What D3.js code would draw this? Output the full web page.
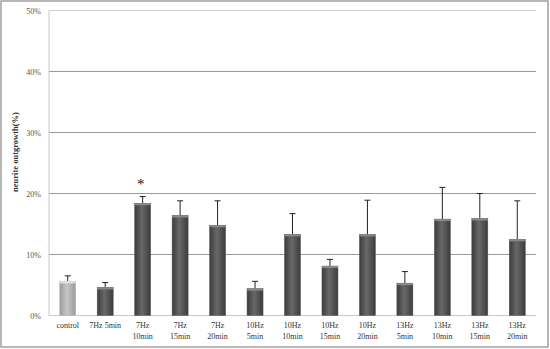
<!DOCTYPE html>
<html>
<head>
<meta charset="utf-8">
<script src="https://cdn.jsdelivr.net/npm/d3@7"></script>
<style>
  body { margin: 0; background: #fff; }
  text { font-family: "Liberation Serif", "DejaVu Serif", serif; }
</style>
</head>
<body>
<script>
// groups on the x axis (line 1 / line 2)
const groups = ['control', '7Hz 5min', '7Hz|10min', '7Hz|15min', '7Hz|20min', '10Hz|5min', '10Hz|10min',
  '10Hz|15min', '10Hz|20min', '13Hz|5min', '13Hz|10min', '13Hz|15min', '13Hz|20min']
// mean neurite outgrowth, %
const means = [5.6, 4.6, 18.4, 16.4, 14.8, 4.4, 13.3, 8.1, 13.3, 5.3, 15.8, 15.9, 12.5]
// error bar (upper), %
const errs = [0.9, 0.8, 1.1, 2.4, 4.0, 1.2, 3.4, 1.1, 5.6, 1.9, 5.2, 4.1, 6.3]
const yTicks = [0, 10, 20, 30, 40, 50]
const starred = ['7Hz|10min']

let width = 550;
let height = 349;
let plotLeft = 49, plotRight = 536, plotTop = 10.5, plotBottom = 315.5;

const svg = d3.select('body').append('svg').attr('width', width).attr('height', height)

// outer frame
svg.append('rect').attr('x', 1).attr('y', 1).attr('width', width - 3).attr('height', height - 3)
  .attr('fill', 'white').attr('stroke', '#a0a0a0').attr('stroke-width', 1.5)

const defs = svg.append('defs')
const mkGrad = (id, edge, mid) => {
  let g = defs.append('linearGradient').attr('id', id).attr('x1', '0%').attr('x2', '100%')
  g.append('stop').attr('offset', '0%').attr('stop-color', edge)
  g.append('stop').attr('offset', '45%').attr('stop-color', mid)
  g.append('stop').attr('offset', '100%').attr('stop-color', edge)
}
mkGrad('dark', '#3c3c3c', '#686868')
mkGrad('light', '#9a9a9a', '#c6c6c6')

const x = d3.scaleBand().domain(groups).range([plotLeft, plotRight])
const y = d3.scaleLinear().domain([0, 50]).range([plotBottom, plotTop])

// grid
svg.append('g').selectAll('line').data(yTicks.slice(1)).enter().append('line')
  .attr('x1', plotLeft).attr('x2', plotRight)
  .attr('y1', d => y(d)).attr('y2', d => y(d))
  .attr('stroke', d => d === 50 ? '#d0d0d0' : '#9a9a9a').attr('stroke-width', 1)

// axes lines
svg.append('line').attr('x1', plotLeft).attr('x2', plotLeft).attr('y1', plotTop).attr('y2', plotBottom)
  .attr('stroke', '#c8c8c8')
svg.append('line').attr('x1', plotLeft).attr('x2', plotRight).attr('y1', plotBottom).attr('y2', plotBottom)
  .attr('stroke', '#c8c8c8')

// y tick labels
svg.append('g').selectAll('text').data(yTicks).enter().append('text')
  .attr('x', plotLeft - 8).attr('y', d => y(d) + 3)
  .attr('text-anchor', 'end').attr('font-size', 8).attr('fill', '#555')
  .text(d => d + '%')

// y axis title
svg.append('text')
  .attr('transform', 'translate(18,152) rotate(-90)')
  .attr('text-anchor', 'middle').attr('font-size', 8.5).attr('font-weight', 'bold').attr('fill', '#333')
  .text('neurite outgrowth(%)')

const bw = 16
const bars = svg.append('g').selectAll('g').data(groups).enter().append('g')

// error bars
bars.append('line')
  .attr('x1', d => x(d) + x.bandwidth() / 2).attr('x2', d => x(d) + x.bandwidth() / 2)
  .attr('y1', (d, i) => y(means[i])).attr('y2', (d, i) => y(means[i] + errs[i]))
  .attr('stroke', '#222').attr('stroke-width', 1)
bars.append('line')
  .attr('x1', d => x(d) + x.bandwidth() / 2 - 3).attr('x2', d => x(d) + x.bandwidth() / 2 + 3)
  .attr('y1', (d, i) => y(means[i] + errs[i])).attr('y2', (d, i) => y(means[i] + errs[i]))
  .attr('stroke', '#222').attr('stroke-width', 1)

bars.append('rect')
  .attr('x', d => x(d) + x.bandwidth() / 2 - bw / 2)
  .attr('width', bw)
  .attr('y', (d, i) => y(means[i]))
  .attr('height', (d, i) => plotBottom - y(means[i]))
  .attr('fill', (d, i) => i === 0 ? 'url(#light)' : 'url(#dark)')
  .attr('stroke', (d, i) => i === 0 ? '#b8b8b8' : '#555').attr('stroke-width', 0.5)
// top cap
bars.append('rect')
  .attr('x', d => x(d) + x.bandwidth() / 2 - bw / 2)
  .attr('width', bw).attr('height', 2)
  .attr('y', (d, i) => y(means[i]))
  .attr('fill', (d, i) => i === 0 ? '#e4e4e4' : '#8a8a8a')

// x labels
const xl = svg.append('g').selectAll('text').data(groups).enter().append('text')
  .attr('text-anchor', 'middle').attr('font-size', 8).attr('fill', '#333')
  .attr('x', d => x(d) + x.bandwidth() / 2).attr('y', 328)
xl.selectAll('tspan').data(d => d.split('|')).enter().append('tspan')
  .attr('x', function () { return d3.select(this.parentNode).attr('x') })
  .attr('dy', (d, i) => i === 0 ? 0 : 10.5)
  .text(d => d)

// significance mark
svg.append('g').selectAll('text').data(starred).enter().append('text')
  .attr('x', d => x(d) + x.bandwidth() / 2 - 2).attr('y', 189)
  .attr('text-anchor', 'middle').attr('font-size', 15).attr('fill', '#111')
  .text('*')
</script>
</body>
</html>
